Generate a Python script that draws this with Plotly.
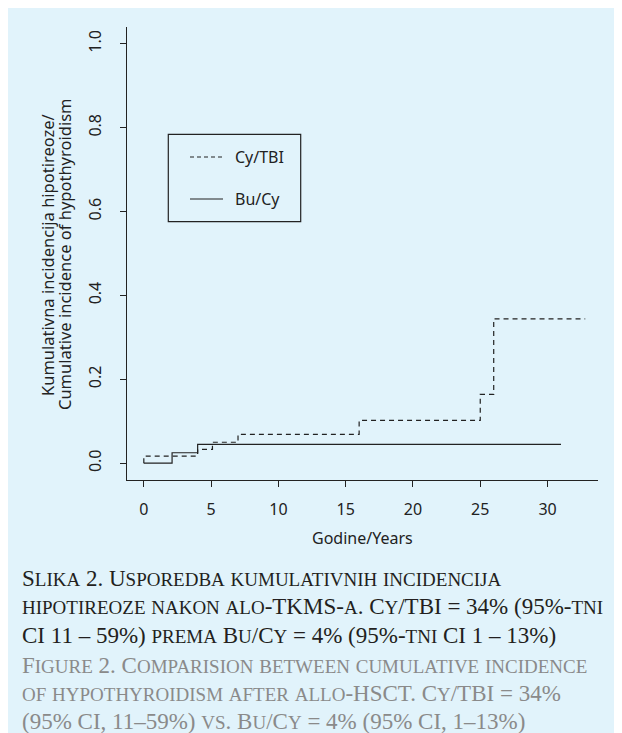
import plotly.graph_objects as go

# ---- data ----
years_cy_tbi = [0, 0, 4, 5.1, 7, 16, 25, 26, 32.8]
inc_cy_tbi = [0, 0.017, 0.033, 0.050, 0.069, 0.102, 0.164, 0.344, 0.344]
years_bu_cy = [0, 2.1, 4, 31]
inc_bu_cy = [0, 0.025, 0.045, 0.045]
series_names = ["Cy/TBI", "Bu/Cy"]
x_ticks = [0, 5, 10, 15, 20, 25, 30]
y_ticks = [0.0, 0.2, 0.4, 0.6, 0.8, 1.0]
y_title_lines = ["Kumulativna incidencija hipotireoze/", "Cumulative incidence of hypothyroidism"]
x_title = "Godine/Years"
caption_hr = [
    "Slika 2. Usporedba kumulativnih incidencija",
    "hipotireoze nakon alo-TKMS-a. Cy/TBI = 34% (95%-tni",
    "CI 11 – 59%) prema Bu/Cy = 4% (95%-tni CI 1 – 13%)",
]
caption_en = [
    "Figure 2. Comparision between cumulative incidence",
    "of hypothyroidism after allo-HSCT. Cy/TBI = 34%",
    "(95% CI, 11–59%) vs. Bu/Cy = 4% (95% CI, 1–13%)",
]

# ---- layout constants ----
W, H = 614, 725
L, R, T, B = 119, 24, 19, 253
PW, PH = W - L - R, H - T - B
SANS = "Noto Sans"
SERIF = "Liberation Serif"
INK = "#222222"
BG = "#e1f3fb"
CAP_SIZE = 23
SMALL_SIZE = 19


def px(x):
    return (x - L) / PW


def py(y):
    return (H - B - y) / PH


def small_caps(text, small):
    """Render lowercase letters as reduced-size capitals (typographic small caps)."""
    out, run, run_small = [], "", None
    for ch in text:
        is_small = ch.islower()
        if run_small is None or is_small == run_small:
            run += ch
        else:
            out.append((run, run_small))
            run = ch
        run_small = is_small
    if run:
        out.append((run, run_small))
    html = ""
    for seg, sm in out:
        if sm:
            html += f'<span style="font-size:{small}px">{seg.upper()}</span>'
        else:
            html += seg
    return html


fig = go.Figure()
fig.add_trace(go.Scatter(x=years_cy_tbi, y=inc_cy_tbi, mode="lines", name=series_names[0],
                         line=dict(shape="hv", color=INK, width=1.2, dash="5px,4px")))
fig.add_trace(go.Scatter(x=years_bu_cy, y=inc_bu_cy, mode="lines", name=series_names[1],
                         line=dict(shape="hv", color=INK, width=1.2)))

shapes = []
annotations = []

# legend box drawn by hand (R style)
shapes.append(dict(type="rect", xref="paper", yref="paper",
                   x0=px(160.3), x1=px(292.7), y0=py(213.7), y1=py(126.3),
                   line=dict(color=INK, width=1.2), fillcolor="rgba(0,0,0,0)"))
leg_rows = [149, 191]
leg_dash = ["4px,3px", "solid"]
for name, yy, dsh in zip(series_names, leg_rows, leg_dash):
    shapes.append(dict(type="line", xref="paper", yref="paper",
                       x0=px(182), x1=px(215), y0=py(yy), y1=py(yy),
                       line=dict(color=INK, width=1.2, dash=dsh)))
    annotations.append(dict(text=name, xref="paper", yref="paper", x=px(225), y=py(yy),
                            xanchor="left", yanchor="middle", showarrow=False,
                            font=dict(family=SANS, size=16, color=INK)))

# y axis title (two rotated lines)
for xx, line in zip([39, 56], y_title_lines):
    annotations.append(dict(text=line, xref="paper", yref="paper", x=px(xx), y=py(247),
                            xanchor="center", yanchor="middle", textangle=-90, showarrow=False,
                            font=dict(family=SANS, size=16.5, color=INK)))
# x axis title
annotations.append(dict(text=x_title, xref="paper", yref="paper", x=0.5, y=py(530),
                        xanchor="center", yanchor="middle", showarrow=False,
                        font=dict(family=SANS, size=16, color=INK)))

# caption
cap_rows = [570, 598.5, 627, 657, 685, 713]
cap_lines = caption_hr + caption_en
cap_colors = ["#231f20"] * 3 + ["#8a8a8a"] * 3
for yy, line, col in zip(cap_rows, cap_lines, cap_colors):
    annotations.append(dict(text=small_caps(line, SMALL_SIZE), xref="paper", yref="paper",
                            x=px(12), y=py(yy), xanchor="left", yanchor="middle",
                            showarrow=False,
                            font=dict(family=SERIF, size=CAP_SIZE, color=col)))

fig.update_layout(
    width=W, height=H,
    margin=dict(l=L, r=R, t=T, b=B, pad=0),
    paper_bgcolor=BG, plot_bgcolor=BG,
    showlegend=False,
    shapes=shapes, annotations=annotations,
    font=dict(family=SANS, size=16, color=INK),
    xaxis=dict(range=[-1.25, 33.75], tickvals=x_ticks, ticks="outside", ticklen=6,
               tickwidth=1, tickcolor=INK, showline=True, linecolor=INK, linewidth=1.2,
               showgrid=False, zeroline=False, ticklabelstandoff=9,
               tickfont=dict(family=SANS, size=16, color=INK)),
    yaxis=dict(range=[-0.04, 1.04], tickvals=y_ticks, tickformat=".1f", ticks="outside",
               ticklen=6, tickwidth=1, tickcolor=INK, showline=True, linecolor=INK,
               linewidth=1.2, showgrid=False, zeroline=False, tickangle=-90,
               ticklabelstandoff=13, tickfont=dict(family=SANS, size=16, color=INK)),
)

fig.write_html("out.html", post_script="document.body.style.overflow='hidden';")
